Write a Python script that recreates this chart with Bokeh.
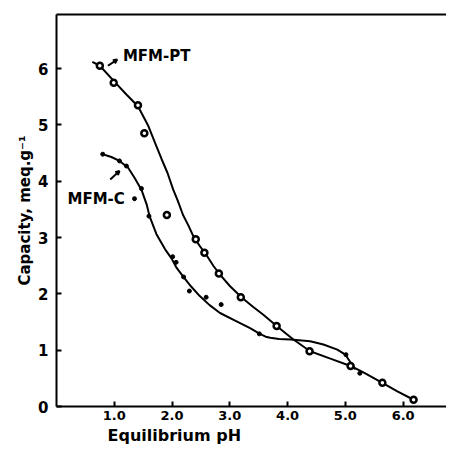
from bokeh.plotting import figure
from bokeh.models import LinearAxis, FixedTicker, Range1d, Label, Arrow, OpenHead, Title
from bokeh.embed import file_html
from bokeh.resources import INLINE

# MFM-PT measured points
pt_ph = [0.75, 0.99, 1.41, 1.52, 1.91, 2.41, 2.56, 2.81, 3.19, 3.81, 4.38, 5.09, 5.64, 6.18]
pt_cap = [6.05, 5.75, 5.35, 4.85, 3.40, 2.97, 2.73, 2.36, 1.94, 1.43, 0.98, 0.72, 0.42, 0.12]
# MFM-PT fitted curve
pt_curve_ph = [0.62, 0.75, 1.01, 1.21, 1.41, 1.59, 1.73, 1.82, 1.92, 2.02, 2.10, 2.19, 2.28,
               2.37, 2.48, 2.60, 2.72, 2.83, 3.0, 3.21, 3.40, 3.58, 3.81, 4.10, 4.39, 4.74,
               5.09, 5.32, 5.64, 5.90, 6.18]
pt_curve_cap = [6.12, 6.05, 5.76, 5.54, 5.33, 4.98, 4.62, 4.39, 4.15, 3.85, 3.65, 3.40, 3.22,
                3.02, 2.85, 2.68, 2.49, 2.34, 2.14, 1.93, 1.77, 1.63, 1.43, 1.19, 0.98, 0.85,
                0.72, 0.60, 0.42, 0.27, 0.12]

# MFM-C measured points
c_ph = [0.80, 1.09, 1.21, 1.35, 1.47, 1.60, 2.01, 2.07, 2.20, 2.30, 2.59, 2.85, 3.51, 5.01, 5.25]
c_cap = [4.48, 4.36, 4.27, 3.69, 3.87, 3.38, 2.66, 2.56, 2.30, 2.05, 1.94, 1.81, 1.29, 0.92, 0.59]
# MFM-C fitted curve
c_curve_ph = [0.80, 0.95, 1.09, 1.24, 1.35, 1.47, 1.56, 1.61, 1.73, 1.88, 1.99, 2.08, 2.19,
              2.33, 2.48, 2.65, 2.83, 3.10, 3.35, 3.52, 3.62, 3.70, 3.85, 4.05, 4.39, 4.62,
              4.86, 5.0, 5.09, 5.17]
c_curve_cap = [4.48, 4.43, 4.36, 4.24, 4.06, 3.85, 3.59, 3.38, 3.06, 2.79, 2.63, 2.46, 2.31,
               2.13, 1.96, 1.80, 1.66, 1.52, 1.39, 1.29, 1.24, 1.22, 1.20, 1.19, 1.16, 1.10,
               1.01, 0.92, 0.78, 0.66]

x_ticks = [1, 2, 3, 4, 5, 6]
x_tick_labels = {1: "1.0", 2: "2.0", 3: "3.0", 4: "4.0", 5: "5.0", 6: "6.0"}
y_ticks = [0, 1, 2, 3, 4, 5, 6]

FONT = "DejaVu Sans"

p = figure(width=446, height=445, output_backend="svg", toolbar_location=None,
           x_range=Range1d(0, 6.75), y_range=Range1d(0, 6.96),
           x_axis_location=None, y_axis_location=None,
           min_border_left=56, min_border_right=0, min_border_top=14, min_border_bottom=38)
p.grid.visible = False
p.outline_line_color = None
p.background_fill_color = "white"


def style(ax):
    ax.axis_line_width = 2
    ax.axis_line_color = "black"
    ax.major_tick_in = 5
    ax.major_tick_out = 0
    ax.major_tick_line_width = 2
    ax.minor_tick_line_color = None
    ax.major_label_text_font = FONT
    ax.major_label_text_font_style = "bold"
    ax.major_label_text_color = "black"


xa = LinearAxis(ticker=FixedTicker(ticks=x_ticks), major_label_overrides=x_tick_labels)
style(xa)
xa.major_label_text_font_size = "13px"
xa.major_label_standoff = 4
p.add_layout(xa, "below")

ya = LinearAxis(ticker=FixedTicker(ticks=y_ticks))
style(ya)
ya.major_label_text_font_size = "15px"
ya.major_label_standoff = 8
ya.axis_label = "Capacity, meq.g\u207b\u00b9"
ya.axis_label_text_font = FONT
ya.axis_label_text_font_size = "15px"
ya.axis_label_text_font_style = "bold"
ya.axis_label_text_color = "black"
ya.axis_label_standoff = 1
p.add_layout(ya, "left")

top = LinearAxis(ticker=FixedTicker(ticks=[]))
top.axis_line_width = 2
top.major_label_text_font_size = "0px"
top.major_tick_line_color = None
top.minor_tick_line_color = None
p.add_layout(top, "above")

p.add_layout(Title(text="Equilibrium pH", align="left", offset=51, text_font=FONT,
                   text_font_size="16px", text_font_style="bold", text_color="black",
                   standoff=2), "below")

p.line(pt_curve_ph, pt_curve_cap, line_color="black", line_width=2)
p.line(c_curve_ph, c_curve_cap, line_color="black", line_width=2)
p.scatter(pt_ph, pt_cap, size=6, fill_color="white", line_color="black", line_width=2.5)
p.scatter(c_ph, c_cap, size=4, fill_color="black", line_color="black")

p.add_layout(Label(x=1.15, y=6.23, text="MFM-PT", text_font=FONT, text_font_size="15px",
                   text_font_style="bold", text_color="black", text_baseline="middle",
                   text_align="left"))
p.add_layout(Label(x=0.19, y=3.69, text="MFM-C", text_font=FONT, text_font_size="15px",
                   text_font_style="bold", text_color="black", text_baseline="middle",
                   text_align="left"))
p.add_layout(Arrow(x_start=0.89, y_start=6.05, x_end=1.05, y_end=6.16, line_width=2,
                   end=OpenHead(size=4, line_width=2)))
p.add_layout(Arrow(x_start=0.93, y_start=4.03, x_end=1.09, y_end=4.18, line_width=2,
                   end=OpenHead(size=4, line_width=2)))

open("out.html", "w").write(file_html(p, INLINE))
